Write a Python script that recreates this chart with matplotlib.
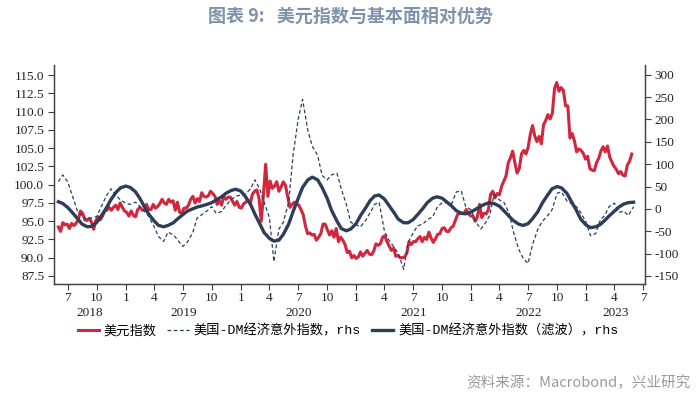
import pandas as pd
import matplotlib
matplotlib.use('Agg')
import matplotlib.pyplot as plt
import matplotlib.dates as mdates
import matplotlib.transforms as mtransforms
from matplotlib.ticker import FuncFormatter, MultipleLocator

# US dollar index, weekly (Fridays from 2018-06-01)
dxy_2018 = [94.2, 93.6, 94.8, 94.5, 94.6, 94.0, 94.7, 94.4, 94.7, 95.2, 96.4, 96.1, 95.2, 95.1,
            95.4, 94.9, 93.9, 95.1, 95.6, 95.2, 95.7, 96.4, 96.5, 96.9, 96.5, 96.9, 97.2,
            96.6, 97.5, 96.9, 96.4]
dxy_2019 = [96.2, 95.7, 96.4, 95.8, 95.6, 96.6, 96.9, 96.5, 96.5, 97.3, 96.6, 96.6, 97.3,
            96.8, 97.0, 97.4, 98.0, 97.5, 97.3, 98.0, 97.6, 97.8, 96.5, 97.6, 96.2, 96.1,
            96.8, 96.8, 97.2, 98.0, 98.4, 97.5, 98.1, 97.7, 98.9, 98.4, 98.3, 98.5, 99.1,
            98.8, 98.4, 97.3, 97.8, 97.2, 98.4, 98.0, 98.3, 98.3, 97.7, 97.2, 97.7, 96.9]
dxy_2020 = [96.8, 97.4, 97.6, 97.9, 97.4, 98.7, 99.1, 99.3, 98.1, 95.0, 98.7, 102.8, 98.4,
            100.5, 99.5, 99.8, 100.4, 99.1, 99.7, 100.4, 99.9, 98.3, 96.9, 97.3, 97.6, 97.4,
            97.2, 96.6, 95.9, 94.4, 93.3, 93.4, 93.1, 93.2, 92.4, 92.8, 93.3, 94.6, 94.6,
            93.8, 93.1, 93.7, 92.8, 94.0, 92.2, 92.8, 92.4, 91.8, 90.7, 90.9, 90.0, 90.3]
dxy_2021 = [89.9, 90.1, 90.8, 90.2, 90.6, 91.0, 90.5, 90.4, 90.9, 91.9, 91.7, 91.9, 92.8,
            93.0, 92.2, 91.6, 91.0, 91.3, 90.2, 90.3, 90.0, 90.0, 90.1, 90.6, 92.2, 91.8,
            92.2, 92.2, 92.6, 92.9, 92.2, 92.8, 92.5, 93.5, 92.7, 92.1, 92.6, 93.2, 93.3,
            94.0, 94.1, 93.6, 93.6, 94.1, 94.3, 95.1, 95.9, 96.1, 96.1, 96.1, 96.6, 96.0, 95.7]
dxy_2022 = [95.7, 95.0, 95.6, 97.3, 95.5, 96.1, 96.0, 96.6, 98.7, 99.1, 98.2, 98.8,
            98.6, 99.8, 100.5, 101.2, 103.0, 103.7, 104.6, 103.0, 101.6, 102.2, 104.2, 104.7, 104.2,
            105.1, 106.9, 108.1, 106.7, 105.9, 106.6, 105.6, 108.2, 108.8,
            109.6, 109.0, 109.8, 113.2, 114.0, 112.8, 113.3, 112.9, 110.8,
            110.8, 106.4, 107.0, 106.0, 104.5, 104.9, 104.7, 104.3, 103.5]
dxy_2023 = [103.9, 102.2, 102.0, 101.9, 103.0, 103.6, 104.6, 105.2, 104.5, 105.3, 103.8, 103.1, 102.5,
            102.1, 101.5, 101.8, 101.3, 101.2, 102.7, 103.2, 104.2]
dxy = dxy_2018 + dxy_2019 + dxy_2020 + dxy_2021 + dxy_2022 + dxy_2023
dxy_dates = pd.date_range('2018-06-01', periods=len(dxy), freq='7D')

# US-DM economic surprise index and its filtered version, semi-monthly (rhs)
surprise = [61, 76, 60, 30, -6, -15, -25, -20, -17, 5, 30, 45, 30, 20, 13, 10, 15, 5, -5, -17,
            -40, -62, -73, -52, -58, -70, -84, -75, -54, -21, -12, -5, 5, -10, -6, 8, 20, 28, 31, 33,
            45, 65, 45, 15, -20, -118, -45, -30, 15, 120, 200, 245, 175, 140, 120, 75, 65, 76, 80, 45,
            10, -30, -36, -40, -25, -8, 10, 15, -50, -70, -85, -100, -135, -75, -54, -38, -34, -24, -18, 3,
            14, 14, 12, 38, 40, 5, -2, -28, -45, -32, -15, 32, 20, 15, -8, -50, -90, -110, -122, -80,
            -45, -28, -15, -2, 35, 38, 18, 12, 5, -8, -30, -60, -55, -25, -15, 5, 13, -8, -5, -15, 5]
surprise_filtered = [16, 12, 3, -8, -22, -34, -40, -39, -30, -16, 3, 21, 37, 47, 51, 48, 38, 23, 5, -12,
                     -27, -37, -40, -37, -31, -22, -13, -5, 0, 4, 7, 10, 14, 20, 27, 35, 41, 44, 40, 28,
                     10, -12, -33, -53, -66, -72, -70, -57, -34, -6, 23, 48, 65, 71, 65, 48, 24, -3, -27, -44,
                     -49, -45, -33, -15, 3, 19, 29, 31, 22, 8, -8, -23, -31, -31, -24, -13, 1, 14, 24, 27,
                     24, 16, 6, -4, -10, -11, -7, -1, 6, 11, 14, 12, 6, -4, -16, -26, -34, -37, -33, -22,
                     -6, 13, 31, 45, 50, 47, 35, 17, -3, -23, -36, -42, -40, -35, -26, -16, -5, 4, 11, 14, 15]
rhs_dates = pd.date_range('2018-06-01', periods=len(surprise), freq='SMS')

years = [2018, 2019, 2020, 2021, 2022, 2023]

RED = '#d0263e'
NAVY = '#2c3e5a'
AXIS = '#404040'

tick_font = {'family': 'Liberation Serif', 'size': 9.5}
cjk_list = ['Liberation Mono', 'Noto Sans CJK SC']

fig = plt.figure(figsize=(7, 4.01), dpi=100)
ax = fig.add_axes([0.0771, 0.2918, 0.8443, 0.5462])
ax2 = ax.twinx()

ax.plot(dxy_dates, dxy, color=RED, lw=2.2, label='美元指数')
ax2.plot(rhs_dates, surprise, color=NAVY, lw=0.9, ls=(0, (3, 2)), label='美国-DM经济意外指数，rhs')
ax2.plot(rhs_dates, surprise_filtered, color=NAVY, lw=2.4, label='美国-DM经济意外指数（滤波），rhs')

x0 = pd.Timestamp('2018-05-18')
x1 = pd.Timestamp('2023-07-07')
ax.set_xlim(x0, x1)
ax.set_ylim(86.4, 116.4)
ax2.set_ylim(-168, 322)
ax.yaxis.set_major_locator(MultipleLocator(2.5))
ax.set_yticks([87.5 + 2.5 * k for k in range(12)])
ax2.set_yticks([-150 + 50 * k for k in range(10)])
ax.yaxis.set_major_formatter(FuncFormatter(lambda v, p: f'{v:.1f}'))
ax2.yaxis.set_major_formatter(FuncFormatter(lambda v, p: f'{v:.0f}'))

ax.xaxis.set_major_locator(mdates.MonthLocator(bymonth=[1, 4, 7, 10]))
ax.xaxis.set_major_formatter(FuncFormatter(lambda v, p: str(mdates.num2date(v).month)))

for a in (ax, ax2):
    a.spines['top'].set_visible(False)
    for s in ('left', 'right', 'bottom'):
        a.spines[s].set_color(AXIS)
        a.spines[s].set_linewidth(0.9)
    a.tick_params(colors=AXIS, length=4, width=0.8, direction='out')
    for lab in a.get_xticklabels() + a.get_yticklabels():
        lab.set_fontfamily(tick_font['family'])
        lab.set_fontsize(tick_font['size'])
        lab.set_color('#222222')
ax.tick_params(axis='x', pad=2)
ax.tick_params(axis='y', pad=3)
ax2.tick_params(axis='y', pad=3)

# year labels centered under the visible part of each year
trans = mtransforms.blended_transform_factory(ax.transData, ax.transAxes)
for y in years:
    s = max(pd.Timestamp(f'{y}-01-01'), x0)
    e = min(pd.Timestamp(f'{y + 1}-01-01'), x1)
    mid = s + (e - s) / 2
    ax.text(mdates.date2num(mid), -0.133, str(y), transform=trans, ha='center', va='center',
            fontfamily='Liberation Serif', fontsize=9.5, color='#222222')

h1, l1 = ax.get_legend_handles_labels()
h2, l2 = ax2.get_legend_handles_labels()
fig.legend(h1 + h2, l1 + l2, loc='center', bbox_to_anchor=(0.497, 1 - 331 / 401), ncol=3,
           frameon=False, prop={'family': cjk_list, 'size': 9.5}, handlelength=1.6,
           handletextpad=0.4, columnspacing=0.8)

fig.text(0.5, 1 - 16 / 401, '图表 9:   美元指数与基本面相对优势', ha='center', va='center',
         fontfamily='Noto Sans CJK SC', fontsize=13, fontweight='bold', color='#7f92ab')
fig.text(0.986, 1 - 383 / 401, '资料来源：Macrobond，兴业研究', ha='right', va='center',
         fontfamily='Noto Sans CJK SC', fontsize=10.5, color='#9a9a9a')

fig.savefig('out.png', dpi=100)
